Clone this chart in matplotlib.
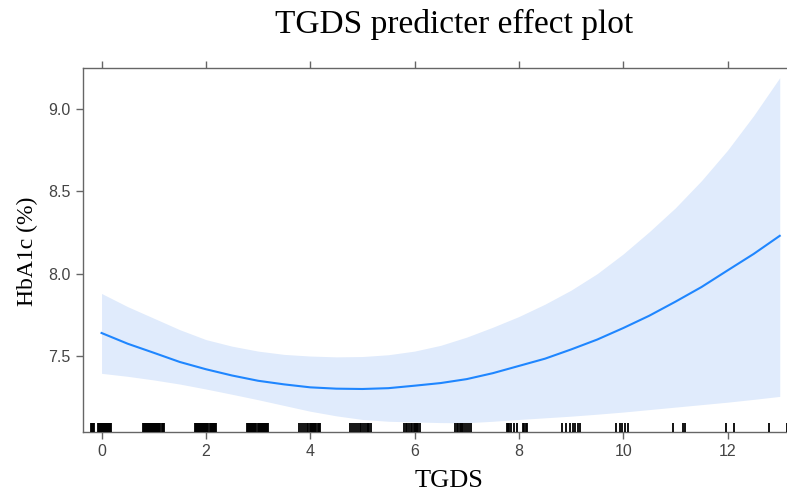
import matplotlib
matplotlib.use('Agg')
import matplotlib.pyplot as plt
import matplotlib.transforms as mtransforms

# effect curve and 95% band
tgds = [0, 0.5, 1, 1.5, 2, 2.5, 3, 3.5, 4, 4.5, 5, 5.5, 6, 6.5,
        7, 7.5, 8, 8.5, 9, 9.5, 10, 10.5, 11, 11.5, 12, 12.5, 13]
fit = [7.64, 7.575, 7.52, 7.464, 7.42, 7.382, 7.35, 7.328, 7.31, 7.302, 7.30, 7.305, 7.32, 7.336,
       7.36, 7.396, 7.44, 7.484, 7.54, 7.60, 7.67, 7.745, 7.83, 7.919, 8.02, 8.12, 8.23]
upper = [7.88, 7.80, 7.73, 7.66, 7.60, 7.56, 7.53, 7.51, 7.50, 7.495, 7.497, 7.508, 7.53, 7.565,
         7.615, 7.675, 7.74, 7.815, 7.90, 8.00, 8.12, 8.255, 8.40, 8.565, 8.75, 8.96, 9.19]
lower = [7.395, 7.377, 7.355, 7.33, 7.30, 7.268, 7.235, 7.20, 7.165, 7.137, 7.115, 7.104, 7.10, 7.096,
         7.095, 7.104, 7.115, 7.125, 7.135, 7.147, 7.16, 7.175, 7.19, 7.205, 7.22, 7.237, 7.255]

# jittered observations (rug)
rug_x = [
    -0.21, -0.19, -0.17, -0.15, -0.07, -0.05, -0.03, -0.01, 0.01, 0.03, 0.05, 0.07,
    0.09, 0.11, 0.13, 0.15, 0.17, 0.19,
    0.79, 0.81, 0.83, 0.85, 0.87, 0.89, 0.91, 0.93, 0.95, 0.97, 0.99, 1.01, 1.03,
    1.05, 1.07, 1.09, 1.11, 1.13, 1.15, 1.17, 1.19,
    1.79, 1.81, 1.83, 1.85, 1.87, 1.89, 1.91, 1.93, 1.95, 1.97, 1.99, 2.01, 2.03,
    2.05, 2.07, 2.09, 2.11, 2.13, 2.15, 2.17, 2.19,
    2.79, 2.81, 2.83, 2.85, 2.87, 2.89, 2.91, 2.93, 2.95, 2.97, 2.99, 3.01, 3.03,
    3.05, 3.07, 3.09, 3.11, 3.13, 3.15, 3.17, 3.19,
    3.79, 3.82, 3.86, 3.90, 3.93, 3.96, 3.99, 4.02, 4.04, 4.06, 4.08, 4.10, 4.12,
    4.14, 4.16, 4.18,
    4.77, 4.80, 4.84, 4.87, 4.91, 4.95, 4.98, 5.01, 5.05, 5.08, 5.10, 5.13, 5.17,
    5.80, 5.83, 5.86, 5.90, 5.93, 5.96, 5.98, 6.00, 6.02, 6.04, 6.07, 6.10,
    6.78, 6.81, 6.84, 6.87, 6.89, 6.91, 6.93, 6.96, 7.00, 7.05, 7.09,
    7.77, 7.79, 7.81, 7.84, 7.90, 7.97, 8.07, 8.10, 8.13, 8.15,
    8.83, 8.90, 8.98, 9.03, 9.08, 9.13, 9.18,
    9.86, 9.93, 9.98, 10.03, 10.10,
    10.96, 11.15, 11.18,
    11.97, 12.13,
    12.80, 13.14,
]

x_ticks = [0, 2, 4, 6, 8, 10, 12]
y_ticks = [7.5, 8.0, 8.5, 9.0]

LINE = '#1f86ff'
BAND = '#e0ebfc'
AXC = '#666666'
SERIF = 'Liberation Serif'
SANS = 'Liberation Sans'

fig = plt.figure(figsize=(7.87, 4.92), dpi=100)
# right edge of the panel falls outside the picture, as in the reference
ax = fig.add_axes([0.1055, 0.122, 0.9088, 0.7398])

ax.fill_between(tgds, lower, upper, color=BAND, lw=0, zorder=1)
ax.plot(tgds, fit, color=LINE, lw=1.5, zorder=3)

trans = mtransforms.blended_transform_factory(ax.transData, ax.transAxes)
ax.vlines(rug_x, 0, 0.025, transform=trans, color='black', lw=1.3, zorder=4)

ax.set_xlim(-0.355, 13.355)
ax.set_ylim(7.039, 9.249)
ax.set_xticks(x_ticks)
ax.set_yticks(y_ticks)
ax.set_yticklabels([f'{v:.1f}' for v in y_ticks])

for s in ax.spines.values():
    s.set_color(AXC)
    s.set_linewidth(1.0)
ax.tick_params(axis='both', direction='out', length=5, width=1, color=AXC,
               labelcolor='#444444', labelsize=11.5, pad=4)
ax.tick_params(axis='x', top=True)
for lab in ax.get_xticklabels() + ax.get_yticklabels():
    lab.set_fontfamily(SANS)

fig.text(0.577, 0.951, 'TGDS predicter effect plot', ha='center', va='center',
         fontsize=24, family=SERIF, color='black')
fig.text(0.571, 0.023, 'TGDS', ha='center', va='center', fontsize=19,
         family=SERIF, color='black')
fig.text(0.035, 0.49, 'HbA1c (%)', ha='center', va='center', rotation=90,
         fontsize=17, family=SERIF, color='black')

fig.savefig('out.png', dpi=100, facecolor='white')
